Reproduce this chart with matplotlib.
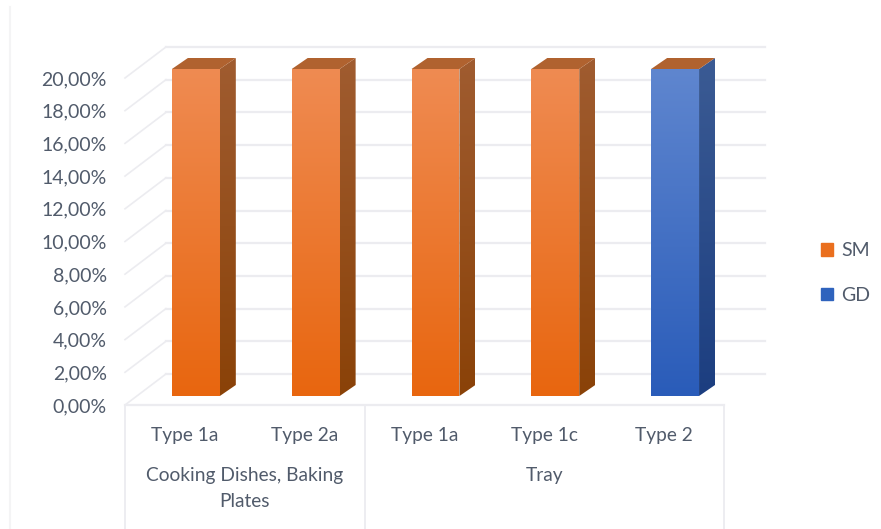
import numpy as np
import matplotlib
matplotlib.use('Agg')
import matplotlib.pyplot as plt
from matplotlib.colors import LinearSegmentedColormap
from matplotlib.lines import Line2D
from matplotlib.patches import Patch, Polygon

# values, in percent
types = ['Type 1a', 'Type 2a', 'Type 1a', 'Type 1c', 'Type 2']
groups = ['Cooking Dishes, Baking\nPlates', 'Tray']
group_sizes = [2, 3]
sm_values = [20, 20, 20, 20, 0]
gd_values = [0, 0, 0, 0, 20]
y_ticks = [0, 2, 4, 6, 8, 10, 12, 14, 16, 18, 20]

TEXT = '#515b6b'
GRID = '#ececf0'

# depth of the fake 3d box, in data units (1 category = 120px, 1% = 16.35px)
WALL_DX, WALL_DY = 41 / 120, 31 / 16.35
BAR_DX, BAR_DY = 11 / 120, 9 / 16.35
SIDE_DX, SIDE_DY = 16 / 120, 11 / 16.35
BAR_W = 48 / 120

plt.rcParams['font.family'] = ['Lato', 'DejaVu Sans']

fig = plt.figure(figsize=(8.81, 5.29), dpi=100)
ax = fig.add_axes([125 / 881, 1 - 405 / 529, 599 / 881, 327 / 529])
ax.set_xlim(-0.5, 4.5)
ax.set_ylim(0, 20)


def shaded(poly_pts, top_col, bot_col, y0, y1):
    # polygon filled with a vertical gradient
    xs = [p[0] for p in poly_pts]
    cmap = LinearSegmentedColormap.from_list('g', [top_col, bot_col])
    im = ax.imshow(np.linspace(0, 1, 128)[:, None], cmap=cmap, aspect='auto',
                   extent=[min(xs), max(xs), y0, y1], origin='upper', zorder=3)
    clip = Polygon(poly_pts, transform=ax.transData, facecolor='none', edgecolor='none')
    ax.add_patch(clip)
    im.set_clip_path(clip)
    # bars stick out of the axes box because of the depth offset
    im.set_clip_box(fig.bbox)
    clip.set_clip_on(False)


def draw_bar(i, val, front, side):
    x0 = i - BAR_W / 2 + BAR_DX
    x1 = x0 + BAR_W
    y0 = BAR_DY
    y1 = y0 + val
    shaded([(x0, y0), (x1, y0), (x1, y1), (x0, y1)], front[0], front[1], y0, y1)
    shaded([(x1, y0), (x1 + SIDE_DX, y0 + SIDE_DY), (x1 + SIDE_DX, y1 + SIDE_DY), (x1, y1)],
           side[0], side[1], y0, y1 + SIDE_DY)
    ax.fill([x0, x1, x1 + SIDE_DX, x0 + SIDE_DX],
            [y1, y1, y1 + SIDE_DY, y1 + SIDE_DY], color='#b0622f', lw=0, zorder=3, clip_on=False)


# back wall gridlines and the slanted lines on the left wall
for t in y_ticks:
    ax.plot([-0.5 + WALL_DX, 4.5 + WALL_DX], [t + WALL_DY, t + WALL_DY], color=GRID, lw=1.6,
            clip_on=False, zorder=1)
    ax.plot([-0.5, -0.5 + WALL_DX], [t, t + WALL_DY], color=GRID, lw=1.2, clip_on=False, zorder=1)

# floor
ax.plot([-0.5, 4.5], [0, 0], color=GRID, lw=1.6, clip_on=False, zorder=1)

for i in range(len(types)):
    if sm_values[i] > 0:
        draw_bar(i, sm_values[i], ('#ef8b52', '#e8660f'), ('#a05c30', '#8a4208'))
    if gd_values[i] > 0:
        draw_bar(i, gd_values[i], ('#5f86cf', '#2a5cb9'), ('#3b5b94', '#1c3e80'))

ax.set_xlim(-0.5, 4.5)
ax.set_ylim(0, 20)
for s in ax.spines.values():
    s.set_visible(False)
ax.patch.set_alpha(0)

ax.set_yticks(y_ticks)
ax.set_yticklabels([('%.2f%%' % t).replace('.', ',') for t in y_ticks])
ax.set_xticks(range(len(types)))
ax.set_xticklabels(types)
ax.tick_params(axis='y', length=0, pad=13, labelsize=14, labelcolor=TEXT)
ax.tick_params(axis='x', length=0, pad=16, labelsize=13.8, labelcolor=TEXT)

# group labels and separators under the axis
trans = ax.get_xaxis_transform()
start = -0.5
ax.plot([start, start], [0, -124 / 327], transform=trans, color=GRID, lw=1.3, clip_on=False)
for g, n in zip(groups, group_sizes):
    ax.text(start + n / 2, -62 / 327, g, transform=trans, ha='center', va='top',
            color=TEXT, fontsize=13.8, linespacing=1.65)
    start += n
    ax.plot([start, start], [0, -124 / 327], transform=trans, color=GRID, lw=1.3, clip_on=False)

# faint frame edge on the left of the picture
fig.add_artist(Line2D([10 / 881, 10 / 881], [0, 1 - 7 / 529], color='#f4f4f5', lw=1.5))

handles = [Patch(color='#ea6f1e', label='SM'), Patch(color='#2f63bd', label='GD')]
fig.legend(handles=handles, loc='center left', bbox_to_anchor=(821 / 881, 1 - 273 / 529),
           frameon=False, fontsize=14, labelcolor=TEXT, handlelength=0.62, handleheight=0.62,
           handletextpad=0.41, labelspacing=1.42, borderpad=0, borderaxespad=0)

fig.savefig('out.png', dpi=100)
